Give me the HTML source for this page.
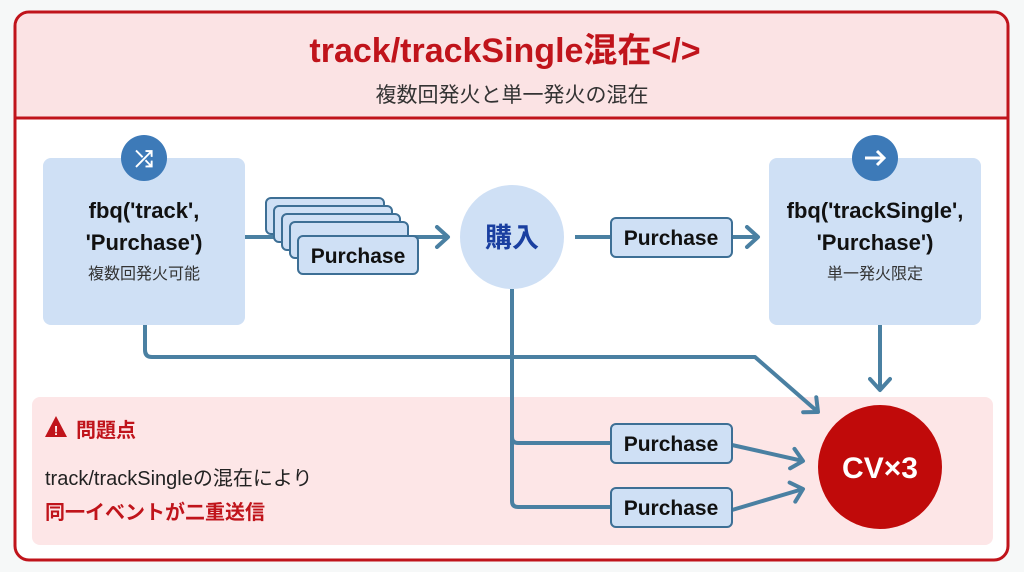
<!DOCTYPE html><html><head><meta charset="utf-8"><style>body{margin:0;background:#fff}svg{display:block}text{font-family:"Liberation Sans","Noto Sans CJK JP",sans-serif}</style></head><body>
<svg width="1024" height="572" viewBox="0 0 1024 572">
<defs><marker id="a" markerWidth="24" markerHeight="24" refX="14" refY="12" orient="auto" markerUnits="userSpaceOnUse" viewBox="0 0 24 24"><path d="M3,2 L14,12 L3,22" fill="none" stroke="#4a80a2" stroke-width="4" stroke-linecap="round" stroke-linejoin="round"/></marker></defs>
<rect width="1024" height="572" fill="#f6f8f8"/>
<rect x="15" y="12" width="993" height="548" rx="14" fill="#fff" stroke="#c0141b" stroke-width="3"/>
<path d="M16.5,118 V26 a13,13 0 0 1 13,-12.5 H993 a13,13 0 0 1 13.5,12.5 V118 Z" fill="#fbe3e4"/>
<line x1="16" y1="118" x2="1007" y2="118" stroke="#c0141b" stroke-width="3"/>
<text x="505" y="62" text-anchor="middle" font-size="34" font-weight="bold" fill="#c0141b">track/trackSingle混在&lt;/&gt;</text>
<text x="512" y="102" text-anchor="middle" font-size="21" fill="#333">複数回発火と単一発火の混在</text>
<rect x="32" y="397" width="961" height="148" rx="8" fill="#fde6e7"/>
<g fill="none" stroke="#4a80a2" stroke-width="4" stroke-linejoin="round">
<path d="M145,325 V350 Q145,357 152,357 H755 L818,412" marker-end="url(#a)"/>
<path d="M880,325 V390" marker-end="url(#a)"/>
<path d="M512,289 V437 Q512,443 518,443 H612 M512,430 V501 Q512,507 518,507 H612"/>
<path d="M245,237 H448" marker-end="url(#a)"/>
<path d="M575,237 H612"/>
<path d="M732,237 H758" marker-end="url(#a)"/>
<path d="M732,445 L803,461" marker-end="url(#a)"/>
<path d="M732,510 L803,489" marker-end="url(#a)"/>
</g>
<rect x="43" y="158" width="202" height="167" rx="8" fill="#cfe0f5"/>
<rect x="769" y="158" width="212" height="167" rx="8" fill="#cfe0f5"/>
<circle cx="144" cy="158" r="23" fill="#3d7ab8"/>
<text x="144" y="166" text-anchor="middle" font-size="22" fill="#fff" font-weight="bold">⤮</text>
<circle cx="875" cy="158" r="23" fill="#3d7ab8"/>
<path d="M865,158 H884 M877,151 L884,158 L877,165" stroke="#fff" stroke-width="3" fill="none"/>
<text x="144" y="218" text-anchor="middle" font-size="22" font-weight="bold" fill="#111">fbq('track',</text>
<text x="144" y="250" text-anchor="middle" font-size="22" font-weight="bold" fill="#111">'Purchase')</text>
<text x="144" y="279" text-anchor="middle" font-size="16" fill="#333">複数回発火可能</text>
<text x="875" y="218" text-anchor="middle" font-size="22" font-weight="bold" fill="#111">fbq('trackSingle',</text>
<text x="875" y="250" text-anchor="middle" font-size="22" font-weight="bold" fill="#111">'Purchase')</text>
<text x="875" y="279" text-anchor="middle" font-size="16" fill="#333">単一発火限定</text>
<g fill="#cfe0f5" stroke="#3d6f95" stroke-width="2">
<rect x="266" y="198" width="118" height="36" rx="5"/>
<rect x="274" y="206" width="118" height="36" rx="5"/>
<rect x="282" y="214" width="118" height="36" rx="5"/>
<rect x="290" y="222" width="118" height="36" rx="5"/>
<rect x="298" y="236" width="120" height="38" rx="5"/>
<rect x="611" y="218" width="121" height="39" rx="5"/>
<rect x="611" y="424" width="121" height="39" rx="5"/>
<rect x="611" y="488" width="121" height="39" rx="5"/>
</g>
<g font-size="21" font-weight="bold" fill="#111" text-anchor="middle">
<text x="358" y="263">Purchase</text>
<text x="671" y="245">Purchase</text>
<text x="671" y="451">Purchase</text>
<text x="671" y="515">Purchase</text>
</g>
<circle cx="512" cy="237" r="52" fill="#cfe0f5"/>
<text x="512" y="247" text-anchor="middle" font-size="27" font-weight="bold" fill="#1a3fa0">購入</text>
<circle cx="880" cy="467" r="62" fill="#c00a0a"/>
<text x="880" y="478" text-anchor="middle" font-size="30" font-weight="bold" fill="#fff">CV×3</text>
<path d="M56,416 L67,437 H45 Z" fill="#c0141b"/>
<text x="56" y="435" text-anchor="middle" font-size="13" font-weight="bold" fill="#fff">!</text>
<text x="76" y="437" font-size="20" font-weight="bold" fill="#c0141b">問題点</text>
<text x="45" y="485" font-size="20" fill="#222">track/trackSingleの混在により</text>
<text x="45" y="519" font-size="20" font-weight="bold" fill="#c0141b">同一イベントが二重送信</text>
</svg></body></html>
